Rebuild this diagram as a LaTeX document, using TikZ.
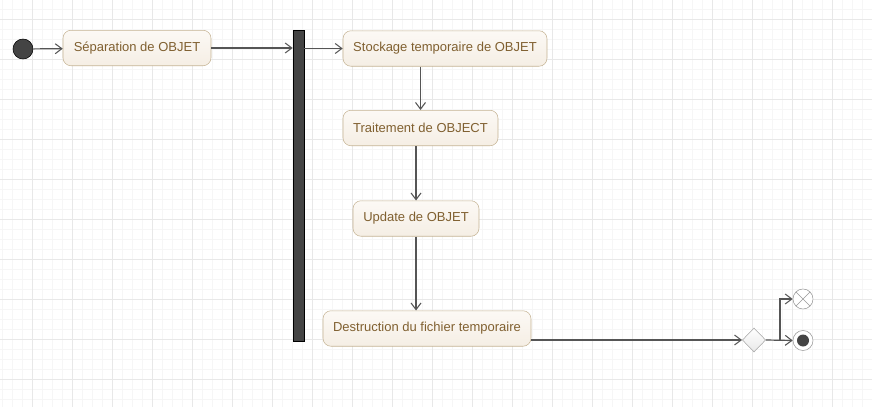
\documentclass[tikz,border=0pt]{standalone}
\usepackage{fontspec}
\setmainfont{Liberation Sans}
\usetikzlibrary{arrows.meta,shapes.geometric}

\definecolor{gridminor}{RGB}{246,246,246}
\definecolor{gridmajor}{RGB}{232,232,232}
\definecolor{actfill}{RGB}{252,249,245}
\definecolor{actfillb}{RGB}{245,238,228}
\definecolor{actline}{RGB}{196,178,146}
\definecolor{acttext}{RGB}{128,96,48}
\definecolor{flowline}{RGB}{85,85,85}
\definecolor{bardark}{RGB}{68,68,68}

\tikzset{
	activity/.style={draw=actline, rounded corners=6pt, top color=actfill,
		bottom color=actfillb, text=acttext, font=\fontsize{9.75pt}{11pt}\selectfont,
		minimum height=26.6pt, inner sep=0pt},
	flow/.style={draw=flowline, line width=0.9pt,
		-{Straight Barb[length=5pt,width=7.5pt,line width=0.8pt]}},
	startstate/.style={circle, draw=black, fill=bardark, minimum size=15pt, inner sep=0pt},
	forkbar/.style={rectangle, draw=black, fill=bardark, minimum width=8.25pt,
		minimum height=233.25pt, inner sep=0pt},
	decision/.style={diamond, draw=gray!70, top color=white, bottom color=gray!18,
		minimum width=17.5pt, minimum height=18pt, inner sep=0pt},
	endring/.style={circle, draw=gray!80, fill=white, minimum size=15pt, inner sep=0pt}
}

\begin{document}
\begin{tikzpicture}[x=0.75pt,y=-0.75pt]
	\useasboundingbox (0,0) rectangle (872,407);
	% background grid
	\foreach \X in {2.7,12.7,...,872}
	{\draw[gridminor,line width=0.75pt] (\X,0) -- (\X,407);}
	\foreach \Y in {9.3,19.3,...,407}
	{\draw[gridminor,line width=0.75pt] (0,\Y) -- (872,\Y);}
	\foreach \X in {32.7,72.7,...,872}
	{\draw[gridmajor,line width=0.75pt] (\X,0) -- (\X,407);}
	\foreach \Y in {19.3,59.3,...,407}
	{\draw[gridmajor,line width=0.75pt] (0,\Y) -- (872,\Y);}

	% nodes
	\node[startstate] (start) at (23,49) {};
	\foreach \N/\X/\Y/\W/\T in {sep/137/48/111/Séparation de OBJET,
		stock/445/48.5/153/Stockage temporaire de OBJET,
		trait/420.5/128/116.25/Traitement de OBJECT,
		upd/416/218.5/94.5/Update de OBJET,
		dest/427/328.5/156/Destruction du fichier temporaire}
	{\node[activity, minimum width=\W pt] (\N) at (\X,\Y) {\T};}
	\node[forkbar] (bar) at (298.5,185.5) {};
	\node[decision] (dec) at (754,340) {};
	\node[endring, path picture={
		\draw[gray!80] (path picture bounding box.north west) -- (path picture bounding box.south east)
		(path picture bounding box.north east) -- (path picture bounding box.south west);}]
		(ff) at (803,299) {};
	\node[endring] (fin) at (803,340.5) {};
	\fill[bardark] (fin.center) circle (4.5pt);
	\coordinate (br) at (780,340);

	% transitions
	\draw[flow] (start) -- (sep);
	\draw[flow] (sep.east) -- (bar.west |- sep.east);
	\draw[flow] (stock.west -| bar.east) -- (stock.west);
	\draw[flow] (stock.south -| trait.north) -- (trait.north);
	\draw[flow] (trait.south -| upd.north) -- (upd.north);
	\draw[flow] (upd.south) -- (dest.north -| upd.south);
	\draw[flow] (dec.west -| dest.east) -- (dec.west);
	\draw[flow] (dec.east) -- (fin.west);
	\draw[flow] (br) |- (ff.west);
\end{tikzpicture}
\end{document}
